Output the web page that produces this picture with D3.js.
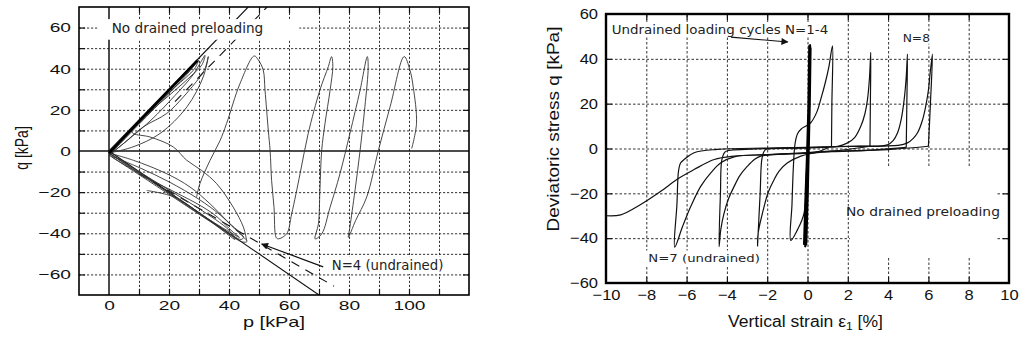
<!DOCTYPE html>
<html>
<head>
<meta charset="utf-8">
<script src="https://cdn.jsdelivr.net/npm/d3@7"></script>
<style>
  body { margin: 0; background: #fff; }
  svg { display: block; }
</style>
</head>
<body>
<svg id="chart" width="1019" height="342"></svg>
<script>
// ---------- left panel: stress paths in p-q plane, [p, q] in kPa ----------
const pTicks = [0, 20, 40, 60, 80, 100];
const qTicksL = [-60, -40, -20, 0, 20, 40, 60];
const pGrid = [10, 20, 30, 40, 50, 60, 70, 80, 90, 100, 110];
const qGridL = [-60, -50, -40, -30, -20, -10, 10, 20, 30, 40, 50, 60];

const lineComp = [[0, 0], [46.4, 70]];
const lineCompDash = [[22, 24], [52.7, 70]];
const lineExt = [[0, 0], [70, -70]];
const lineExtDash = [[10, -11.1], [75, -65.7]];
const firstLoading = [[0, -1], [29.5, 44]];

const compCycles = [
  [[0, -1], [8, 2], [17, 8.5], [26, 21.5], [31.4, 36], [33.1, 45.9], [32, 40], [30.3, 36], [24.8, 26.3], [19.2, 18.2], [11.4, 11.7], [4.8, 3.6], [0, -2]],
  [[0, -2], [6, 5], [14, 15], [22, 27], [28, 37], [30.5, 43], [32, 46.5], [31, 42], [27, 36], [20, 27], [12, 17], [5, 7], [0, -1]],
  [[0, -2], [10, 13], [20, 28], [27, 39], [29.8, 44.2], [28.5, 40], [22, 31], [14, 20], [6, 9], [1, 0]]
];
const extCycles = [
  [[0, -1], [8.1, -4.5], [19.2, -11], [27, -17.5], [33.7, -25.7], [39.2, -33.8], [44.8, -42], [44, -43], [38, -38], [30, -30.5], [20, -20.5], [10, -10.5], [0, -1]],
  [[0, -2], [10, -8], [20, -15], [30, -23.5], [37, -31], [42, -38], [46, -44], [44.5, -44.2], [35, -35.5], [22, -23], [10, -11.5], [0, -2]],
  [[0, -1], [10, -10], [20, -19], [30, -28], [40, -38.5], [42, -43], [40, -41], [30, -30], [18, -18.5], [6, -7], [0, -1]],
  [[1, -3], [12, -12.5], [22, -20], [31, -27], [36, -32], [41, -39], [43.5, -42], [33, -33], [22, -22.5], [12.6, -19.2]]
];
const pathN4 = [[7, 10.5], [8.1, 8.5], [13.7, 6.8], [21.4, 2], [25.9, -4.5], [30.9, -9.5], [35.9, -15.9], [41.4, -27.3], [44.8, -37], [45.9, -43.6]];
const drainedLoops = [
  [29.2, -22.4], [30.3, -15.9], [33.7, -4.5], [37, 5], [39.2, 13.4], [43.7, 32.9], [48.4, 46.2],
  [49.8, 44.2], [51.4, 39.4], [52, 29.6], [53.1, 10], [53.7, 0.3], [54.2, -14.3], [55, -27.3], [55.7, -42], [56.4, -42.7],
  [59.2, -40.3], [60.9, -30.5], [63.7, -11], [66.4, 8.5], [70.3, 29.6], [73.1, 41], [74.2, 45.9],
  [74.6, 41], [73.7, 29.6], [72, 13.4], [70.9, 0.3], [70.3, -19.2], [69.8, -35.4], [68.7, -42.7],
  [70.9, -40.3], [73.7, -27.3], [77, -11], [80.3, 8.5], [83.7, 29.6], [86.1, 45.9],
  [86.4, 41], [85.3, 21.5], [83.7, 0.3], [82, -19.2], [80.3, -37], [79.8, -42],
  [82.2, -33.8], [85.9, -22.4], [89.8, 0.3], [93.7, 21.5], [98.4, 45.9],
  [100.3, 39.4], [101.4, 31.2], [102.5, 13.4], [100.9, 1.2]
];
const arrowN4 = [[71.4, -56.3], [50.9, -45.2]];

// ---------- right panel: q versus vertical strain, [strain %, q kPa] ----------
const strainTicks = [-10, -8, -6, -4, -2, 0, 2, 4, 6, 8, 10];
const qTicksR = [-60, -40, -20, 0, 20, 40, 60];
const strainGrid = [-8, -6, -4, -2, 0, 2, 4, 6, 8];
const qGridR = [-40, -20, 0, 20, 40];

const cyclesN1to4 = [[-0.18, -43], [-0.1, -20], [-0.02, 0], [0.04, 20], [0.08, 46], [0.1, 44], [0.05, 20], [0, 0], [-0.07, -20], [-0.12, -44],
  [-0.08, -43], [0, -20], [0.05, 0], [0.1, 20], [0.13, 46.5], [0.15, 44], [0.08, 20], [0.03, 0], [-0.03, -20], [-0.1, -43.5],
  [-0.05, -42], [0.02, -20], [0.07, 0], [0.12, 20], [0.16, 45], [0.12, 20], [0.06, 0], [-0.02, -20], [-0.06, -43]];
const cycleN5 = [[0.03, -2], [-0.05, -10], [-0.17, -28.8], [-0.5, -36.3], [-0.83, -41], [-0.77, -25], [-0.7, -8], [-0.62, 2], [-0.5, 6.5], [-0.3, 8.8], [-0.08, 10],
  [0.16, 11.5], [0.45, 16], [0.66, 22], [0.9, 30], [1.07, 36.9], [1.24, 45.8], [1.21, 20], [1.19, 1]];
const cycleN6 = [[1.19, 1], [0.5, -1.5], [-0.33, -3.4], [-0.99, -6.4], [-1.4, -10], [-1.66, -13.9], [-1.95, -19.5], [-2.15, -25.8], [-2.45, -37.8], [-2.48, -43.5],
  [-2.35, -20], [-2.25, -4], [-2.1, -0.6], [-1.8, -0.1], [0, 0.3], [1.5, 1], [1.99, 2.5], [2.35, 5], [2.65, 10], [2.85, 15.5], [2.98, 22], [3.08, 32], [3.14, 42.9], [3.12, 20], [3.1, 1]];
const cycleN7 = [[3.1, 1], [1.2, -1.2], [-0.2, -2], [-2.32, -3.4], [-2.65, -5], [-2.98, -7.9], [-3.35, -12], [-3.64, -16.9], [-3.9, -22], [-4.14, -28.8], [-4.3, -36], [-4.39, -43.8],
  [-4.32, -20], [-4.25, -5], [-4.1, -1.6], [-3.97, -1], [-2, 0], [0, 0.4], [2, 0.9], [3.6, 1.1], [3.97, 1.6], [4.25, 3.5], [4.47, 7], [4.65, 13], [4.8, 22], [4.9, 32], [4.96, 42.1], [4.93, 20], [4.9, 0.5]];
const cycleN8 = [[4.9, 0.5], [3, -0.8], [1.2, -1.4], [-0.2, -2.2], [-2, -2.8], [-3.6, -3.6], [-4.3, -6.4], [-4.8, -10.9], [-5.3, -16.9], [-5.79, -25.8],
  [-6.2, -34.8], [-6.59, -44], [-6.48, -25], [-6.4, -10], [-6.3, -6.5], [-6.12, -4.9], [-5.63, -1.9], [-4.47, -0.4], [-2, 0.2], [0, 0.5], [2, 1], [4.5, 1.4],
  [4.96, 2.5], [5.25, 4.5], [5.46, 7], [5.7, 12.5], [5.87, 19], [6.0, 26], [6.09, 33.9], [6.2, 42.1], [6.1, 20], [6, 1]];
const finalExtension = [[6, 1], [4, -0.5], [1.2, -1.2], [-0.18, -1.9], [-1.99, -2.7], [-3.64, -3.4], [-4.63, -4.9], [-5.63, -9.4], [-6.45, -13.6],
  [-7.28, -19.1], [-8.28, -25], [-9.27, -29.6], [-10, -30]];
const arrowN1to4 = [[-3.8, 49.7], [-0.98, 47.5]];

// ---------- drawing ----------
const svg = d3.select('#chart');
const tickFont = 'Liberation Sans, Arial, sans-serif';
const noteFont = 'DejaVu Sans, Verdana, sans-serif';

svg.append('defs').append('marker')
  .attr('id', 'head')
  .attr('viewBox', '0 0 10 10')
  .attr('refX', 9).attr('refY', 5)
  .attr('markerWidth', 10).attr('markerHeight', 7)
  .attr('markerUnits', 'userSpaceOnUse')
  .attr('orient', 'auto')
  .append('path').attr('d', 'M0,0L10,5L0,10z').attr('fill', '#111');

function fit(t, width, x, y, pre = '') {
  const w = t.node().getComputedTextLength();
  t.attr('transform', `translate(${x},${y})${pre} scale(${width / w},1)`);
}

function note(g, str, x, y, size, width, pad, weight = 'normal') {
  const box = g.append('rect').attr('fill', '#fff');
  const t = g.append('text')
    .attr('font-family', noteFont).attr('font-size', size).attr('fill', '#222')
    .attr('font-weight', weight)
    .text(str);
  fit(t, width, x, y);
  box.attr('x', x - pad[0]).attr('y', y - size - pad[1])
    .attr('width', width + pad[0] + pad[2]).attr('height', size + pad[1] + pad[3]);
  return t;
}

function frameGrid(g, x, y, xs, ys, dash) {
  const [b, t] = y.range();
  const [l, r] = x.range();
  g.append('g').attr('transform', `translate(0,${b})`)
    .call(d3.axisBottom(x).tickValues(xs).tickSize(-(b - t)).tickFormat(''))
    .call(s => s.select('.domain').remove())
    .selectAll('line').attr('stroke', '#333').attr('stroke-width', 1).attr('stroke-dasharray', dash);
  g.append('g').attr('transform', `translate(${l},0)`)
    .call(d3.axisLeft(y).tickValues(ys).tickSize(-(r - l)).tickFormat(''))
    .call(s => s.select('.domain').remove())
    .selectAll('line').attr('stroke', '#333').attr('stroke-width', 1).attr('stroke-dasharray', dash);
}

function inwardTicks(g, x, y, xs, ys, len) {
  const [b, t] = y.range();
  const [l, r] = x.range();
  const parts = [
    [`translate(0,${b})`, d3.axisBottom(x).tickValues(xs)],
    [`translate(0,${t})`, d3.axisTop(x).tickValues(xs)],
    [`translate(${l},0)`, d3.axisLeft(y).tickValues(ys)],
    [`translate(${r},0)`, d3.axisRight(y).tickValues(ys)]
  ];
  parts.forEach(([tr, ax]) => {
    g.append('g').attr('transform', tr)
      .call(ax.tickSize(-len).tickFormat(''))
      .call(s => s.select('.domain').remove())
      .selectAll('line').attr('stroke', '#111').attr('stroke-width', 1.2);
  });
}

function tickLabels(g, x, y, xs, ys, size, k, padX, padY) {
  const [b] = y.range();
  const [l] = x.range();
  g.append('g').attr('transform', `translate(0,${b})`)
    .call(d3.axisBottom(x).tickValues(xs).tickSize(0).tickPadding(padX))
    .call(s => s.select('.domain').remove())
    .selectAll('text')
    .attr('font-family', tickFont).attr('font-size', size).attr('fill', '#111')
    .attr('transform', `scale(${k},1)`);
  g.append('g').attr('transform', `translate(${l},0)`)
    .call(d3.axisLeft(y).tickValues(ys).tickSize(0))
    .call(s => s.select('.domain').remove())
    .selectAll('text')
    .attr('font-family', tickFont).attr('font-size', size).attr('fill', '#111')
    .attr('x', -padY / k)
    .attr('transform', `scale(${k},1)`);
}

// ----- left panel -----
const xL = d3.scaleLinear().domain([-10, 120]).range([79, 469]);
const yL = d3.scaleLinear().domain([-70, 70]).range([295, 7]);
const gL = svg.append('g');
const lineL = d3.line().x(d => xL(d[0])).y(d => yL(d[1]));
const smoothL = d3.line().x(d => xL(d[0])).y(d => yL(d[1])).curve(d3.curveCatmullRom.alpha(0.5));

svg.select('defs').append('clipPath').attr('id', 'clipL')
  .append('rect').attr('x', 79).attr('y', 7).attr('width', 390).attr('height', 288);

frameGrid(gL, xL, yL, pGrid, qGridL, '2.2,1.8');
inwardTicks(gL, xL, yL, pGrid, qGridL, 6);

gL.append('line').attr('x1', xL(0)).attr('x2', xL(0)).attr('y1', yL(70)).attr('y2', yL(-70))
  .attr('stroke', '#111').attr('stroke-width', 1.5);
gL.append('line').attr('x1', xL(-10)).attr('x2', xL(120)).attr('y1', yL(0)).attr('y2', yL(0))
  .attr('stroke', '#111').attr('stroke-width', 1.5);

const curvesL = gL.append('g').attr('clip-path', 'url(#clipL)').attr('fill', 'none');
curvesL.append('path').attr('d', lineL(lineComp)).attr('stroke', '#111').attr('stroke-width', 1.1);
curvesL.append('path').attr('d', lineL(lineExt)).attr('stroke', '#111').attr('stroke-width', 1.1);
curvesL.append('path').attr('d', lineL(lineCompDash)).attr('stroke', '#111').attr('stroke-width', 1.1).attr('stroke-dasharray', '9,7');
curvesL.append('path').attr('d', lineL(lineExtDash)).attr('stroke', '#111').attr('stroke-width', 1.1).attr('stroke-dasharray', '9,7');
compCycles.concat(extCycles).forEach(c => {
  curvesL.append('path').attr('d', smoothL(c)).attr('stroke', '#333').attr('stroke-width', 0.9);
});
curvesL.append('path').attr('d', smoothL(pathN4)).attr('stroke', '#333').attr('stroke-width', 0.9);
curvesL.append('path').attr('d', smoothL(drainedLoops)).attr('stroke', '#333').attr('stroke-width', 0.9);
curvesL.append('path').attr('d', lineL(firstLoading)).attr('stroke', '#000').attr('stroke-width', 2.6);

note(gL, 'No drained preloading', 111.7, 32.7, 13.6, 151.6, [14, 0, 36, 7]);
note(gL, 'N=4 (undrained)', 331.7, 270, 13.3, 111.7, [6, 0, 4, 4]);
gL.append('path').attr('d', lineL(arrowN4)).attr('stroke', '#111').attr('stroke-width', 1.2)
  .attr('fill', 'none').attr('marker-end', 'url(#head)');

gL.append('rect').attr('x', 79).attr('y', 7).attr('width', 390).attr('height', 288)
  .attr('fill', 'none').attr('stroke', '#000').attr('stroke-width', 1.6);

tickLabels(gL, xL, yL, pTicks, qTicksL, 13.5, 1.42, 5, 8);

const pLabel = gL.append('text').attr('font-family', tickFont).attr('font-size', 14).attr('fill', '#111')
  .attr('text-anchor', 'middle').text('p [kPa]');
fit(pLabel, 62, 274, 327);
gL.append('text').attr('font-family', tickFont).attr('font-size', 14).attr('fill', '#111')
  .attr('text-anchor', 'middle')
  .attr('transform', 'translate(28,148) rotate(-90) scale(1,1.35)')
  .text('q [kPa]');

// ----- right panel -----
const xR = d3.scaleLinear().domain([-10, 10]).range([606, 1009]);
const yR = d3.scaleLinear().domain([-60, 60]).range([283, 14]);
const gR = svg.append('g');
const lineR = d3.line().x(d => xR(d[0])).y(d => yR(d[1]));
const smoothR = d3.line().x(d => xR(d[0])).y(d => yR(d[1])).curve(d3.curveCatmullRom.alpha(0.5));

svg.select('defs').append('clipPath').attr('id', 'clipR')
  .append('rect').attr('x', 606).attr('y', 14).attr('width', 403).attr('height', 269);

frameGrid(gR, xR, yR, strainGrid, qGridR, '2.5,2');
inwardTicks(gR, xR, yR, strainGrid, qGridR, 6);

const curvesR = gR.append('g').attr('clip-path', 'url(#clipR)').attr('fill', 'none');
[cycleN5, cycleN6, cycleN7, cycleN8, finalExtension].forEach(c => {
  curvesR.append('path').attr('d', smoothR(c)).attr('stroke', '#111').attr('stroke-width', 1.2);
});
curvesR.append('path').attr('d', lineR(cyclesN1to4)).attr('stroke', '#000').attr('stroke-width', 1.8);

note(gR, 'Undrained loading cycles N=1-4', 611.7, 34.3, 11.8, 216.6, [2, 0, 2, 2], 500);
note(gR, 'N=8', 902.7, 41.7, 10.8, 27.3, [2, 0, 2, 2]);
note(gR, 'N=7 (undrained)', 648.3, 262.3, 10.8, 111.7, [3, 1, 3, 3]);
note(gR, 'No drained preloading', 846, 216, 12.8, 154, [-4, 36, -3, 41]);
gR.append('path').attr('d', lineR(arrowN1to4)).attr('stroke', '#111').attr('stroke-width', 1.1)
  .attr('fill', 'none').attr('marker-end', 'url(#head)');

gR.append('rect').attr('x', 606).attr('y', 14).attr('width', 403).attr('height', 269)
  .attr('fill', 'none').attr('stroke', '#000').attr('stroke-width', 2.4);

tickLabels(gR, xR, yR, strainTicks, qTicksR, 15, 1.1, 6, 8);

const eLabel = gR.append('text').attr('font-family', tickFont).attr('font-size', 16).attr('fill', '#111')
  .attr('text-anchor', 'middle');
eLabel.append('tspan').text('Vertical strain ε');
eLabel.append('tspan').attr('font-size', 11).attr('dy', 3).text('1');
eLabel.append('tspan').attr('dy', -3).text(' [%]');
fit(eLabel, 155, 805.5, 326.7);

const qLabel = gR.append('text').attr('font-family', tickFont).attr('font-size', 16).attr('fill', '#111')
  .attr('text-anchor', 'middle').text('Deviatoric stress q [kPa]');
fit(qLabel, 205, 559, 129, ' rotate(-90)');
</script>
</body>
</html>
